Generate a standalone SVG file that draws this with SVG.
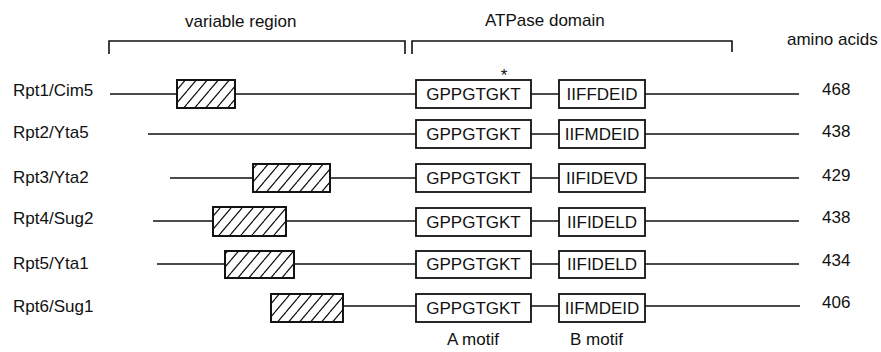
<svg xmlns="http://www.w3.org/2000/svg" width="881" height="352" viewBox="0 0 881 352">
<defs>
<pattern id="hatch" patternUnits="userSpaceOnUse" width="11" height="13">
<path d="M-11,13 L0,0 M0,13 L11,0 M11,13 L22,0" stroke="#111" stroke-width="1.2"/>
</pattern>
<style>
text{font-family:"Liberation Sans",Arial,sans-serif;font-size:17px;fill:#111}
.c{text-anchor:middle}
.ln{stroke:#111;stroke-width:1.6;fill:none}
.bx{fill:#fff;stroke:#111;stroke-width:1.8}
.hb{fill:url(#hatch);stroke:#111;stroke-width:1.8}
</style>
</defs>
<rect width="881" height="352" fill="#fff"/>
<g id="headers">
<text x="185" y="27">variable region</text>
<text x="485" y="26">ATPase domain</text>
<text x="787" y="45">amino acids</text>
<path class="ln" d="M109,54 V41 H405 V54 M412,54 V41 H732 V52"/>
<text class="c" x="504" y="81">*</text>
<text x="447" y="345">A motif</text>
<text x="570" y="345">B motif</text>
</g>
<g id="connectors">
<path class="ln" d="M110,94 H799 M148,134 H799 M170,178 H799 M153,221 H799 M157,264 H799 M271,306 H800"/>
</g>
<g id="rpt1">
<text x="13" y="96">Rpt1/Cim5</text>
<rect class="bx" x="177" y="80" width="58" height="28"/><rect class="hb" x="177" y="80" width="58" height="28"/>
<rect class="bx" x="416" y="80" width="115" height="28"/><text class="c" x="473.5" y="100">GPPGTGKT</text>
<rect class="bx" x="559" y="80" width="86" height="28"/><text class="c" x="602" y="100">IIFFDEID</text>
<text x="822" y="95">468</text>
</g>
<g id="rpt2">
<text x="13" y="138">Rpt2/Yta5</text>
<rect class="bx" x="416" y="120" width="115" height="28"/><text class="c" x="473.5" y="140">GPPGTGKT</text>
<rect class="bx" x="559" y="120" width="86" height="28"/><text class="c" x="602" y="140">IIFMDEID</text>
<text x="822" y="137">438</text>
</g>
<g id="rpt3">
<text x="13" y="183">Rpt3/Yta2</text>
<rect class="bx" x="253" y="164" width="77" height="28"/><rect class="hb" x="253" y="164" width="77" height="28"/>
<rect class="bx" x="416" y="164" width="115" height="28"/><text class="c" x="473.5" y="184">GPPGTGKT</text>
<rect class="bx" x="559" y="164" width="86" height="28"/><text class="c" x="602" y="184">IIFIDEVD</text>
<text x="822" y="181">429</text>
</g>
<g id="rpt4">
<text x="13" y="224">Rpt4/Sug2</text>
<rect class="bx" x="213" y="207" width="73" height="29"/><rect class="hb" x="213" y="207" width="73" height="29"/>
<rect class="bx" x="416" y="208" width="115" height="28"/><text class="c" x="473.5" y="228">GPPGTGKT</text>
<rect class="bx" x="559" y="208" width="86" height="28"/><text class="c" x="602" y="228">IIFIDELD</text>
<text x="822" y="223">438</text>
</g>
<g id="rpt5">
<text x="13" y="269">Rpt5/Yta1</text>
<rect class="bx" x="225" y="251" width="69" height="27"/><rect class="hb" x="225" y="251" width="69" height="27"/>
<rect class="bx" x="416" y="251" width="115" height="27"/><text class="c" x="473.5" y="270">GPPGTGKT</text>
<rect class="bx" x="559" y="251" width="86" height="27"/><text class="c" x="602" y="270">IIFIDELD</text>
<text x="822" y="266">434</text>
</g>
<g id="rpt6">
<text x="13" y="312">Rpt6/Sug1</text>
<rect class="bx" x="271" y="294" width="72" height="28"/><rect class="hb" x="271" y="294" width="72" height="28"/>
<rect class="bx" x="416" y="294" width="115" height="28"/><text class="c" x="473.5" y="314">GPPGTGKT</text>
<rect class="bx" x="559" y="294" width="86" height="28"/><text class="c" x="602" y="314">IIFMDEID</text>
<text x="822" y="308">406</text>
</g>
</svg>
